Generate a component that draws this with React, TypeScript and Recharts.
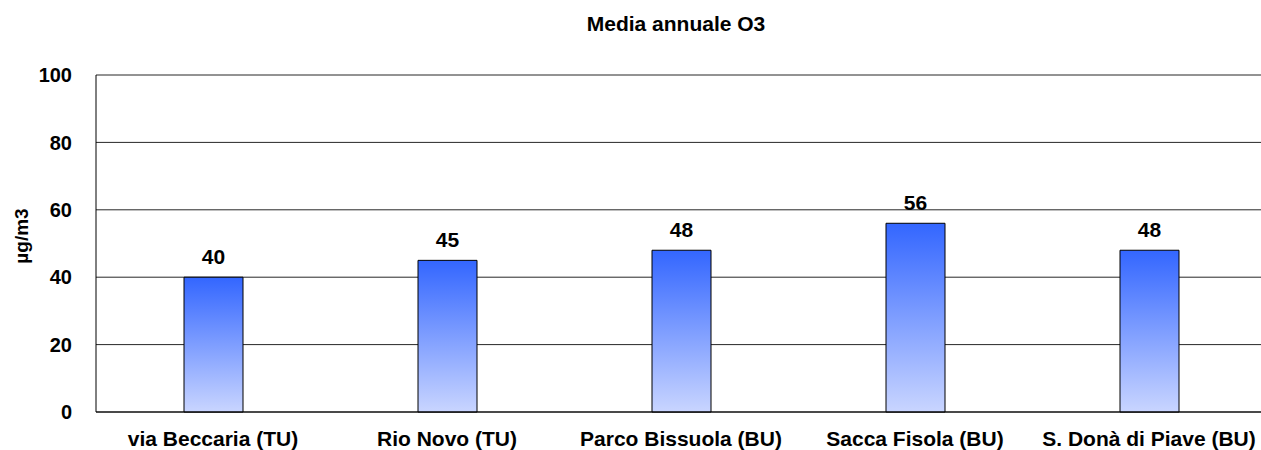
import React from 'react';
import { BarChart, Bar, XAxis, YAxis, CartesianGrid, LabelList } from 'recharts';

const stations = [
  'via Beccaria (TU)',
  'Rio Novo (TU)',
  'Parco Bissuola (BU)',
  'Sacca Fisola (BU)',
  'S. Donà di Piave (BU)',
];
const o3Means = [40, 45, 48, 56, 48];
const yTicks = [0, 20, 40, 60, 80, 100];
const boundaryTicks = [0, 1, 2, 3, 4, 5];

const data = stations.map((name, i) => ({ name, value: o3Means[i] }));

const FONT = "'Liberation Sans', Arial, Helvetica, sans-serif";

export default function App() {
  return (
    <div
      style={{
        position: 'absolute',
        left: 0,
        top: 0,
        width: 1261,
        height: 450,
        overflow: 'hidden',
        background: '#fff',
        fontFamily: FONT,
      }}
    >
      <div
        style={{
          position: 'absolute',
          left: 676,
          top: 13,
          transform: 'translateX(-50%)',
          fontSize: 21,
          lineHeight: '21px',
          fontWeight: 'bold',
          whiteSpace: 'nowrap',
          color: '#000',
        }}
      >
        Media annuale O3
      </div>
      <div
        style={{
          position: 'absolute',
          left: 21,
          top: 236,
          transform: 'translate(-50%, -50%) rotate(-90deg)',
          fontSize: 19,
          lineHeight: '19px',
          fontWeight: 'bold',
          whiteSpace: 'nowrap',
          color: '#000',
        }}
      >
        µg/m3
      </div>
      <BarChart
        width={1275}
        height={450}
        data={data}
        margin={{ top: 75, right: 9, left: 0, bottom: 0 }}
        style={{ position: 'absolute', left: 0, top: 0 }}
      >
        <defs>
          <linearGradient id="barGrad" x1="0" y1="0" x2="0" y2="1">
            <stop offset="0%" stopColor="#3366ff" />
            <stop offset="100%" stopColor="#c9d5ff" />
          </linearGradient>
        </defs>
        <CartesianGrid horizontal vertical={false} stroke="#000" strokeOpacity={0.85} />
        <XAxis
          xAxisId="bounds"
          type="number"
          domain={[0, 5]}
          ticks={boundaryTicks}
          tick={false}
          tickSize={7}
          tickLine={{ stroke: '#000' }}
          axisLine={false}
          height={0}
          allowDataOverflow
        />
        <XAxis
          dataKey="name"
          height={38}
          tickLine={false}
          tickMargin={13}
          axisLine={{ stroke: '#000' }}
          interval={0}
          tick={{ fill: '#000', fontSize: 21, fontWeight: 'bold', fontFamily: FONT }}
        />
        <YAxis
          width={96}
          domain={[0, 100]}
          ticks={yTicks}
          tickLine={false}
          tickMargin={18}
          axisLine={{ stroke: '#000' }}
          tick={{ fill: '#000', fontSize: 20, fontWeight: 'bold', fontFamily: FONT }}
        />
        <Bar
          dataKey="value"
          barSize={59}
          fill="url(#barGrad)"
          stroke="#000"
          strokeWidth={1}
          isAnimationActive={false}
        >
          <LabelList
            dataKey="value"
            position="top"
            offset={13}
            fill="#000"
            fontSize={21}
            fontWeight="bold"
            fontFamily={FONT}
          />
        </Bar>
      </BarChart>
    </div>
  );
}
